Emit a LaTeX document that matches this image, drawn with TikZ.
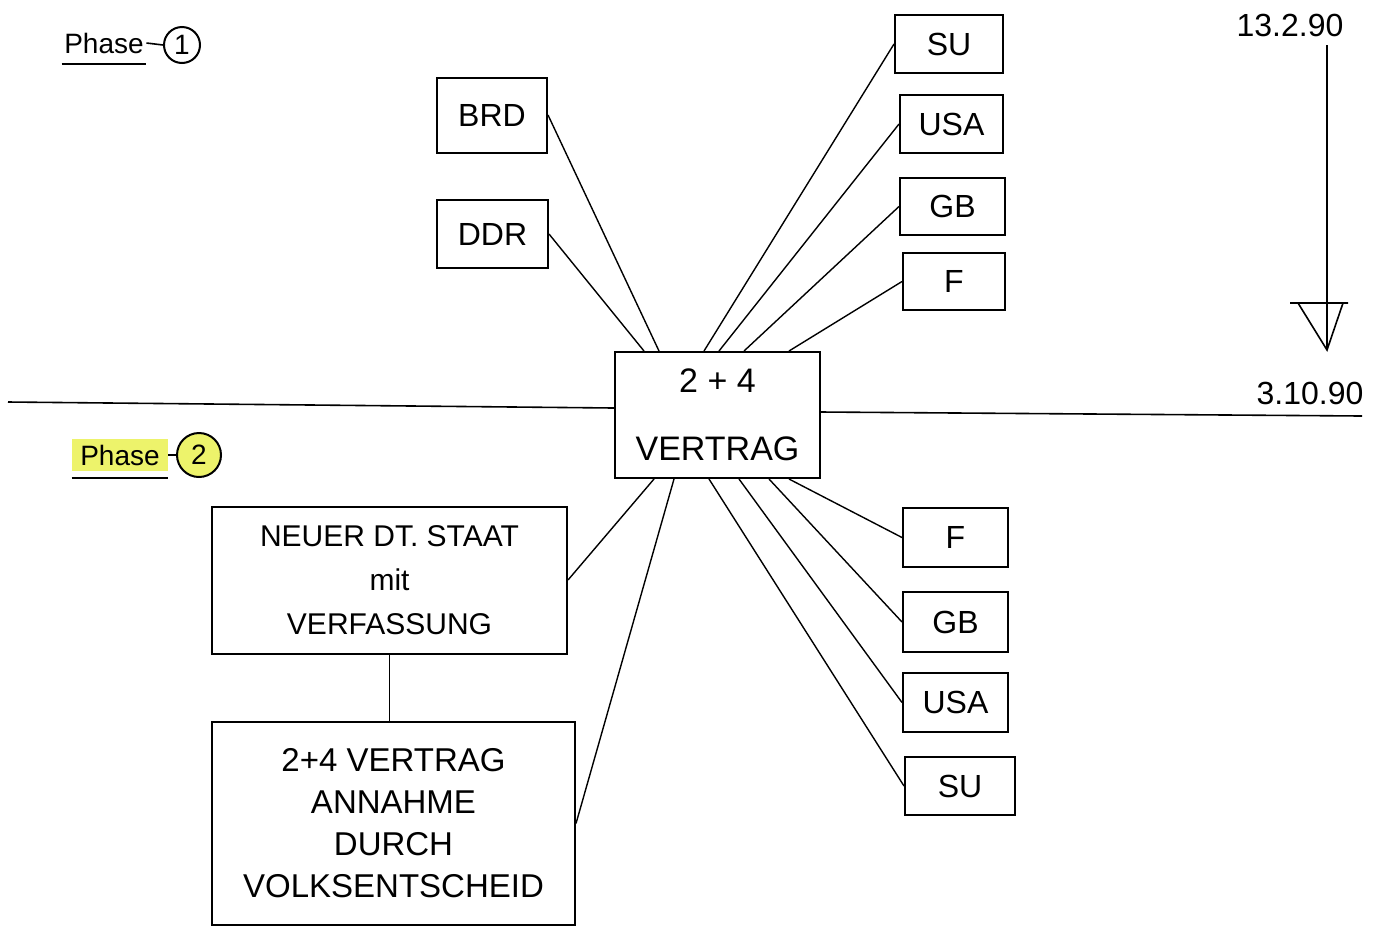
\documentclass[tikz,border=0pt]{standalone}
\usepackage{fontspec}
\setmainfont{Liberation Sans}
\definecolor{marker}{HTML}{EDF36B}
\tikzset{
  land/.style 2 args={draw, line width=1pt, minimum width=#1, minimum height=#2, inner sep=0pt, font=\fontsize{16}{18}\selectfont},
  bigbox/.style 2 args={draw, line width=1pt, minimum width=#1, minimum height=#2, inner sep=0pt, align=center},
  link/.style={line width=0.7pt},
  nummer/.style={draw, circle, line width=1pt, inner sep=0pt, minimum size=#1, font=\fontsize{14}{16}\selectfont},
  phase/.style={inner sep=1pt, font=\fontsize{14}{16}\selectfont},
  datum/.style={font=\fontsize{16}{18}\selectfont},
}
\begin{document}
\begin{tikzpicture}[x=0.5pt,y=-0.5pt,line width=0.8pt]
\useasboundingbox (0,0) rectangle (1379,927);

\node[phase] (ph1) at (104,43) {Phase};
\node[nummer=18pt] (n1) at (182,45) {1};
\draw ([yshift=-4pt]ph1.south west) -- ([yshift=-4pt]ph1.south east);
\draw (ph1.east) -- (n1.west);

\node[phase, fill=marker, inner xsep=4pt, inner ysep=3pt] (ph2) at (120,455) {Phase};
\node[nummer=22pt, fill=marker] (n2) at (199,455) {2};
\draw ([yshift=-3pt]ph2.south west) -- ([yshift=-3pt]ph2.south east);
\draw (ph2.east) -- (n2.west);

\node[datum] (d1) at (1290,25) {13.2.90};
\node[datum] (d2) at (1310,393) {3.10.90};
\coordinate (top) at (1327,45);
\coordinate (tip) at (1327,350);
\draw (top) -- (tip);
\draw (1290,303) -- (1348,303) (1298,303) -- (tip) -- (1343,303);

\node[bigbox={102.5pt}{63pt}, font=\fontsize{17}{19}\selectfont] (vertrag) at (717.5,415) {2 + 4\\[15pt]VERTRAG};

\coordinate (hl) at (8,402);
\coordinate (hr) at (1362,416);
\draw (hl) -- ([yshift=3.5pt]vertrag.west);
\draw ([yshift=1.5pt]vertrag.east) -- (hr);

\node[land={55pt}{37.5pt}] (brd) at (492,115) {BRD};
\node[land={55.5pt}{34pt}] (ddr) at (492.5,234) {DDR};
\node[land={54pt}{29pt}] (su1) at (949,44) {SU};
\node[land={51.5pt}{29pt}] (usa1) at (951.5,124) {USA};
\node[land={52.5pt}{28.5pt}] (gb1) at (952.5,206.5) {GB};
\node[land={51pt}{28.5pt}] (f1) at (954,281.5) {F};

\node[land={52.5pt}{29.5pt}] (f2) at (955.5,537.5) {F};
\node[land={52.5pt}{30pt}] (gb2) at (955.5,622) {GB};
\node[land={52.5pt}{29.5pt}] (usa2) at (955.5,702.5) {USA};
\node[land={55pt}{29pt}] (su2) at (960,786) {SU};

\node[bigbox={177.5pt}{73.5pt}, font=\fontsize{15}{22}\selectfont] (neuer) at (389.5,580) {NEUER DT. STAAT\\mit\\VERFASSUNG};
\node[bigbox={181.5pt}{101.5pt}, font=\fontsize{16.5}{21}\selectfont] (annahme) at (393.5,823.5) {2+4 VERTRAG\\ANNAHME\\DURCH\\VOLKSENTSCHEID};
\draw (neuer.south) -- (neuer.south |- annahme.north);

\draw[link] (brd.east) -- ([xshift=22.5pt]vertrag.north west);
\draw[link] (ddr.east) -- ([xshift=15pt]vertrag.north west);
\draw[link] (su1.west) -- ([xshift=45pt]vertrag.north west);
\draw[link] (usa1.west) -- ([xshift=52.5pt]vertrag.north west);
\draw[link] (gb1.west) -- ([xshift=65pt]vertrag.north west);
\draw[link] (f1.west) -- ([xshift=87.5pt]vertrag.north west);

\draw[link] ([xshift=87.5pt]vertrag.south west) -- (f2.west);
\draw[link] ([xshift=77.5pt]vertrag.south west) -- (gb2.west);
\draw[link] ([xshift=62.5pt]vertrag.south west) -- (usa2.west);
\draw[link] ([xshift=47.5pt]vertrag.south west) -- (su2.west);
\draw[link] ([xshift=20pt]vertrag.south west) -- (neuer.east);
\draw[link] ([xshift=30pt]vertrag.south west) -- (annahme.east);
\end{tikzpicture}
\end{document}
